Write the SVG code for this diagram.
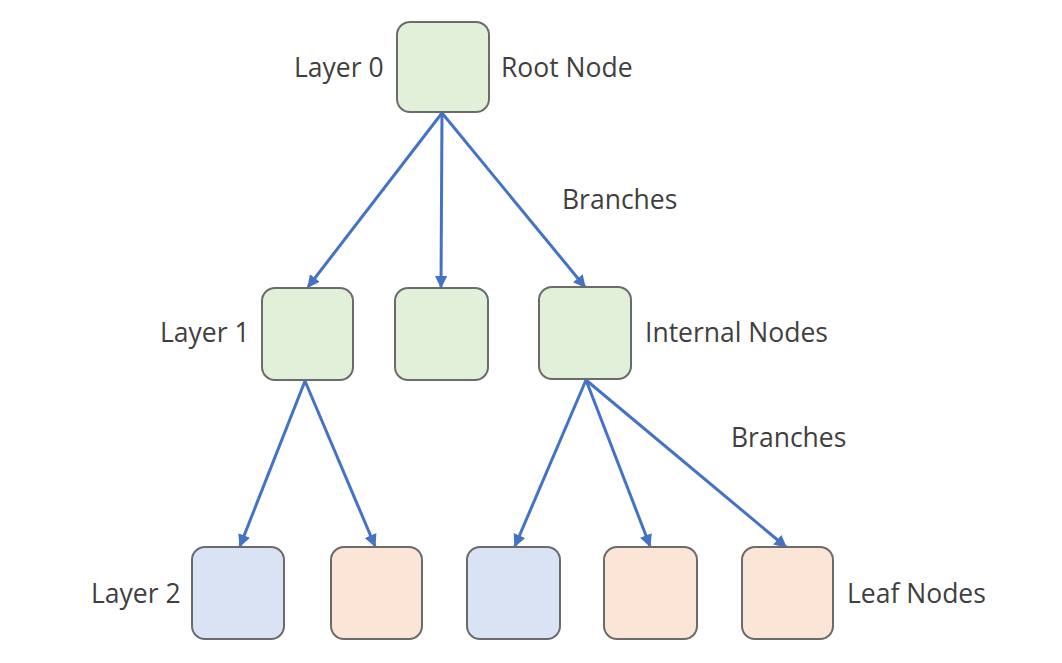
<svg xmlns="http://www.w3.org/2000/svg" width="1062" height="663" viewBox="0 0 1062 663">
<style>
.n{stroke:#6b6b6b;stroke-width:2}
.g{fill:#e2efd9}.b{fill:#dae3f3}.p{fill:#fbe5d6}
.e{stroke:#4472c4;stroke-width:3;fill:none;marker-end:url(#ah)}
text{font-family:"Open Sans","Noto Sans","DejaVu Sans",sans-serif;font-size:26.5px;fill:#3f3f3f}
</style>
<defs>
<marker id="ah" viewBox="0 0 10 10" refX="9" refY="5" markerWidth="4.2" markerHeight="4.2" orient="auto" markerUnits="strokeWidth">
<path d="M0,0 L10,5 L0,10 z" fill="#4472c4"/>
</marker>
</defs>
<rect width="1062" height="663" fill="#ffffff"/>
<g id="connectors">
<line class="e" x1="442" y1="113" x2="308" y2="287"/>
<line class="e" x1="442" y1="113" x2="441" y2="287"/>
<line class="e" x1="442" y1="113" x2="585" y2="287"/>
<line class="e" x1="305" y1="381" x2="240" y2="546"/>
<line class="e" x1="305" y1="381" x2="375" y2="546"/>
<line class="e" x1="586" y1="380" x2="515" y2="546"/>
<line class="e" x1="586" y1="380" x2="650" y2="546"/>
<line class="e" x1="586" y1="380" x2="786" y2="547"/>
</g>
<g id="root"><rect class="n g" x="397" y="22" width="92" height="90" rx="13"/></g>
<g id="l1a"><rect class="n g" x="262" y="288" width="91" height="92" rx="13"/></g>
<g id="l1b"><rect class="n g" x="395" y="288" width="93" height="92" rx="13"/></g>
<g id="l1c"><rect class="n g" x="539" y="287" width="92" height="92" rx="13"/></g>
<g id="l2a"><rect class="n b" x="192" y="547" width="92" height="92" rx="13"/></g>
<g id="l2b"><rect class="n p" x="331" y="547" width="91" height="92" rx="13"/></g>
<g id="l2c"><rect class="n b" x="467" y="547" width="93" height="92" rx="13"/></g>
<g id="l2d"><rect class="n p" x="604" y="547" width="93" height="92" rx="13"/></g>
<g id="l2e"><rect class="n p" x="742" y="547" width="91" height="92" rx="13"/></g>
<g id="labels">
<text x="294" y="77">Layer 0</text>
<text x="501" y="77">Root Node</text>
<text x="562" y="209">Branches</text>
<text x="160" y="342">Layer 1</text>
<text x="645" y="342">Internal Nodes</text>
<text x="731" y="447">Branches</text>
<text x="91" y="603">Layer 2</text>
<text x="847" y="603">Leaf Nodes</text>
</g>
</svg>
